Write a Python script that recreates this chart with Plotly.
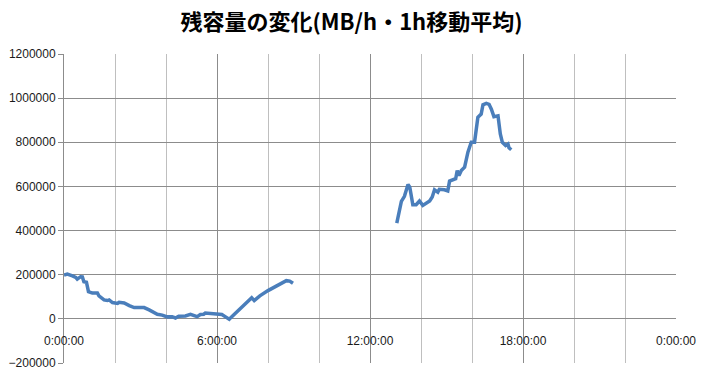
import plotly.graph_objects as go

# Time in hours since 0:00 (None marks the data gap)
hours = [
    0.00, 0.13, 0.33, 0.46, 0.52, 0.65, 0.72, 0.78, 0.88, 0.96, 1.11, 1.24, 1.31, 1.37,
    1.57, 1.70, 1.77, 1.90, 2.10, 2.16, 2.36, 2.56, 2.75, 2.95, 3.14, 3.34, 3.66, 3.85,
    4.05, 4.24, 4.37, 4.50, 4.76, 4.96, 5.09, 5.22, 5.35, 5.48, 5.54, 5.80, 6.06, 6.19,
    6.32, 6.48, 6.58, 6.84, 7.10, 7.36, 7.46, 7.68, 8.00, 8.40, 8.72, 8.85, 8.98,
    None,
    13.05, 13.16, 13.23, 13.35, 13.45, 13.49, 13.56, 13.62, 13.68, 13.81, 13.94, 14.07,
    14.20, 14.34, 14.44, 14.53, 14.66, 14.72, 14.92, 15.05, 15.12, 15.25, 15.36, 15.42,
    15.49, 15.58, 15.71, 15.84, 15.97, 16.10, 16.17, 16.23, 16.36, 16.43, 16.56, 16.67,
    16.76, 16.86, 17.02, 17.11, 17.19, 17.32, 17.41, 17.45, 17.54,
]
remaining = [
    198000, 203000, 195000, 188000, 180000, 191000, 190000, 168000, 166000, 123000, 117000, 115000, 117000, 104000,
    86000, 83000, 86000, 74000, 70000, 75000, 72000, 60000, 51000, 52000, 51000, 40600, 21000, 17000,
    9000, 10000, 4000, 12000, 13000, 20000, 14000, 10000, 20000, 21000, 26000, 23000, 23000, 20000,
    10000, -2000, 10000, 40000, 71000, 96000, 83000, 104000, 128000, 153000, 173000, 171000, 161000,
    None,
    434000, 492000, 532000, 555000, 590000, 609000, 597000, 552000, 517000, 517000, 534000, 514000,
    522000, 534000, 552000, 585000, 574000, 587000, 585000, 580000, 624000, 632000, 635000, 672000,
    650000, 672000, 687000, 755000, 800000, 800000, 860000, 913000, 928000, 970000, 976000, 972000,
    950000, 916000, 920000, 838000, 800000, 785000, 792000, 775000, 766000,
]

x_tickvals = [0, 6, 12, 18, 24]
x_ticktext = ["0:00:00", "6:00:00", "12:00:00", "18:00:00", "0:00:00"]
y_min, y_max, y_step = -200000, 1200000, 200000

title_text = "残容量の変化(MB/h・1h移動平均)"

fig = go.Figure()
fig.add_trace(go.Scatter(
    x=hours, y=remaining, mode="lines",
    line=dict(color="#4A7EBB", width=3.5),
    connectgaps=False, showlegend=False,
))

grid_dark = "#8C8C8C"
fig.update_layout(
    width=703, height=375,
    margin=dict(l=64, r=27, t=54, b=12),
    paper_bgcolor="white", plot_bgcolor="white",
    title=dict(
        text=title_text, x=0.5, xanchor="center", y=1 - 22 / 375, yanchor="middle",
        font=dict(family="Noto Sans CJK JP", size=22, color="black", weight="bold"),
    ),
    xaxis=dict(
        range=[0, 24], tickmode="array", tickvals=x_tickvals, ticktext=x_ticktext,
        anchor="free", position=(0 - y_min) / (y_max - y_min),
        showgrid=True, gridcolor=grid_dark, gridwidth=1,
        minor=dict(dtick=2, tick0=0, showgrid=True, gridcolor="#BFBFBF", gridwidth=1, ticks=""),
        ticks="outside", ticklen=11, tickcolor="rgba(0,0,0,0)",
        showline=False, zeroline=False, automargin=False,
        tickfont=dict(family="Liberation Sans", size=12, color="#1a1a1a"),
    ),
    xaxis2=dict(
        range=[0, 24], overlaying="x", anchor="y", side="bottom",
        showline=True, mirror=True, linecolor=grid_dark, linewidth=1,
        showgrid=False, showticklabels=False, ticks="", zeroline=False, automargin=False,
    ),
    yaxis=dict(
        range=[y_min, y_max], dtick=y_step, tick0=0,
        showgrid=True, gridcolor=grid_dark, gridwidth=1,
        showline=True, linecolor=grid_dark, linewidth=1,
        ticks="outside", ticklen=5, tickcolor=grid_dark,
        zeroline=True, zerolinecolor=grid_dark, zerolinewidth=1,
        tickformat="d", automargin=False,
        tickfont=dict(family="Liberation Sans", size=12, color="#1a1a1a"),
    ),
)

fig.write_html("out.html")
